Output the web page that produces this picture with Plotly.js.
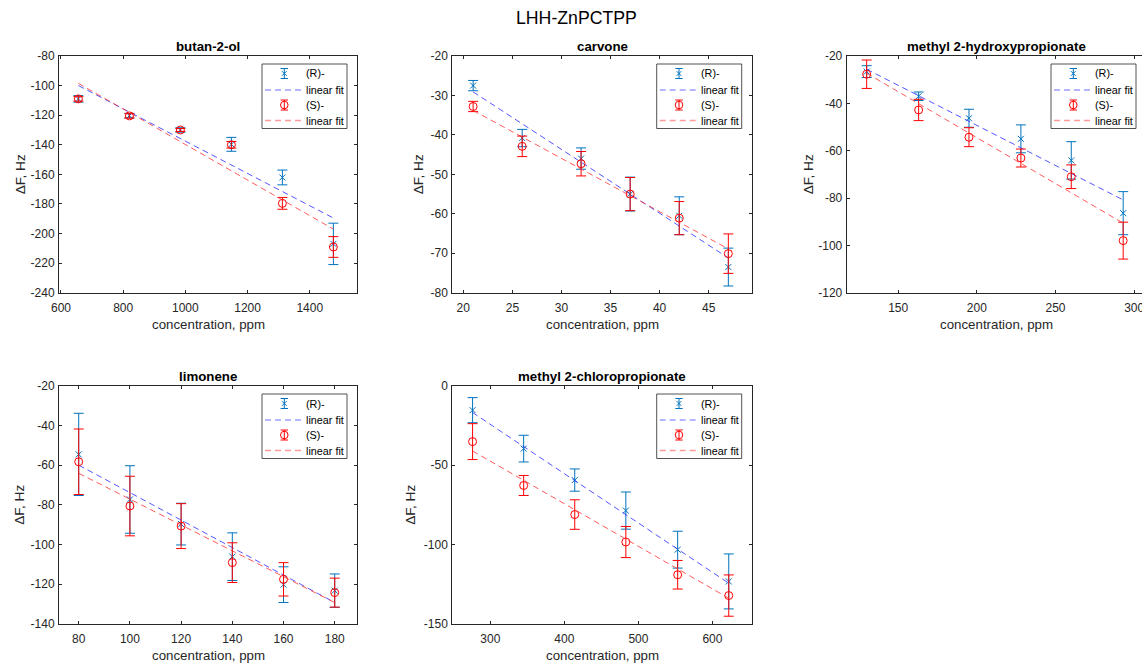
<!DOCTYPE html>
<html>
<head>
<meta charset="utf-8">
<script src="https://cdn.plot.ly/plotly-3.0.1.min.js"></script>
<style>
  html, body { margin: 0; padding: 0; background: #fff; overflow: hidden; }
  #chart { width: 1150px; height: 666px; }
</style>
</head>
<body>
<div id="chart"></div>
<script>
// ---------------- data ----------------
const panelTitles = ['butan-2-ol', 'carvone', 'methyl 2-hydroxypropionate', 'limonene', 'methyl 2-chloropropionate'];
const mainTitle = 'LHH-ZnPCTPP';
const xLabel = 'concentration, ppm';
const yLabel = '\u0394F, Hz';
const legendLabels = ['(R)-', 'linear fit', '(S)-', 'linear fit'];

// butan-2-ol
const butanConc = [656, 820, 984, 1148, 1312, 1476];
const butanR    = [-109, -120.3, -130, -139.7, -162.1, -207];
const butanRerr = [2.2, 1.5, 1.5, 4.7, 5, 14];
const butanS    = [-109, -120.5, -130, -140, -179.6, -209.1];
const butanSerr = [1.5, 1.5, 1, 2.2, 4, 7];
const butanRfit = [-100, -189.5];
const butanSfit = [-98.5, -197];

// carvone
const carvoneConc = [21, 26, 32, 37, 42, 47];
const carvoneR    = [-27.5, -40.8, -46, -55, -60.5, -73.5];
const carvoneRerr = [1.3, 2.2, 2.7, 4.3, 4.8, 4.8];
const carvoneS    = [-32.8, -42.9, -47.3, -55, -61.1, -70.1];
const carvoneSerr = [1.3, 2.6, 3.1, 4.2, 4.2, 5];
const carvoneRfit = [-29.1, -71.2];
const carvoneSfit = [-33.8, -68.9];

// methyl 2-hydroxypropionate
const hydroxyConc = [130, 163, 195, 228, 260, 293];
const hydroxyR    = [-26.6, -37, -46.3, -55, -64.1, -86.4];
const hydroxyRerr = [2.5, 1.8, 3.8, 5.9, 7.9, 9.1];
const hydroxyS    = [-27.7, -42.8, -54.3, -63.1, -71, -98];
const hydroxySerr = [6, 4.5, 4, 3.8, 5, 7.8];
const hydroxyRfit = [-25.6, -80.8];
const hydroxySfit = [-27.3, -90.6];

// limonene
const limoneneConc = [80, 100, 120, 140, 160, 180];
const limoneneR    = [-54.6, -77.3, -89.7, -106.1, -120.2, -123.2];
const limoneneRerr = [20.7, 17, 10.5, 12, 9, 8.4];
const limoneneS    = [-58.3, -80.6, -90.7, -109.1, -117.5, -124.2];
const limoneneSerr = [16.5, 15, 11.3, 10, 8.4, 7.3];
const limoneneRfit = [-60, -129.2];
const limoneneSfit = [-64.1, -129.2];

// methyl 2-chloropropionate
const chloroConc = [276, 345, 414, 483, 553, 622];
const chloroR    = [-15.4, -39.6, -59.4, -78.6, -103.2, -123.2];
const chloroRerr = [7.9, 8.4, 7, 11.7, 11.6, 17.3];
const chloroS    = [-35.2, -62.8, -81.1, -98.4, -119, -132.1];
const chloroSerr = [11.3, 6.3, 9.3, 9.8, 9, 13];
const chloroRfit = [-16.9, -124.3];
const chloroSfit = [-41.1, -133.8];

// axis ranges and ticks
const xRanges = [[593.6, 1552], [18.88, 49.38], [117.3, 307.5], [72.3, 188.7], [248.6, 653]];
const yRanges = [[-240, -80], [-80, -20], [-120, -20], [-140, -20], [-150, 0]];
const xTicks = [[600, 800, 1000, 1200, 1400], [20, 25, 30, 35, 40, 45], [150, 200, 250, 300], [80, 100, 120, 140, 160, 180], [300, 400, 500, 600]];
const yTicks = [[-240, -220, -200, -180, -160, -140, -120, -100, -80], [-80, -70, -60, -50, -40, -30, -20], [-120, -100, -80, -60, -40, -20], [-140, -120, -100, -80, -60, -40, -20], [-150, -100, -50, 0]];

// ---------------- layout geometry ----------------
const W = 1150, H = 666;
const px = x => x / W;
const py = y => 1 - y / H;
const boxes = [
  {l: 59, r: 357, t: 56, b: 292.7},
  {l: 452.3, r: 751.7, t: 56, b: 292.7},
  {l: 846.7, r: 1146, t: 56, b: 292.7},
  {l: 59, r: 357, t: 385.7, b: 624},
  {l: 452.3, r: 751.7, t: 385.7, b: 624}
];
const yLabelX = [20, 418, 808, 20, 411];

const panels = [
  {conc: butanConc, R: butanR, Rerr: butanRerr, S: butanS, Serr: butanSerr, Rfit: butanRfit, Sfit: butanSfit},
  {conc: carvoneConc, R: carvoneR, Rerr: carvoneRerr, S: carvoneS, Serr: carvoneSerr, Rfit: carvoneRfit, Sfit: carvoneSfit},
  {conc: hydroxyConc, R: hydroxyR, Rerr: hydroxyRerr, S: hydroxyS, Serr: hydroxySerr, Rfit: hydroxyRfit, Sfit: hydroxySfit},
  {conc: limoneneConc, R: limoneneR, Rerr: limoneneRerr, S: limoneneS, Serr: limoneneSerr, Rfit: limoneneRfit, Sfit: limoneneSfit},
  {conc: chloroConc, R: chloroR, Rerr: chloroRerr, S: chloroS, Serr: chloroSerr, Rfit: chloroRfit, Sfit: chloroSfit}
];

const FONT = 'Liberation Sans, Arial, Helvetica, sans-serif';
const AXC = '#262626';
const BLUE = '#0072BD', RED = '#FF0000', FITBLUE = '#2a2aff', FITRED = '#ff3030';
const LEGBLUE = '#6f6fff', LEGRED = '#ff9a9a';
const DASH = '6px,4px';

const traces = [];
const layout = {
  width: W, height: H,
  margin: {l: 0, r: 0, t: 0, b: 0},
  paper_bgcolor: '#fff', plot_bgcolor: '#fff',
  showlegend: false,
  font: {family: FONT, color: AXC},
  shapes: [], annotations: []
};

panels.forEach((p, i) => {
  const s = i === 0 ? '' : String(i + 1);
  const xa = 'x' + s, ya = 'y' + s;
  const bx = boxes[i];
  const first = p.conc[0], last = p.conc[p.conc.length - 1];

  traces.push({
    type: 'scatter', mode: 'markers', x: p.conc, y: p.R, xaxis: xa, yaxis: ya, name: '(R)-',
    marker: {symbol: 'x-thin-open', size: 6, color: BLUE, line: {color: BLUE, width: 1}},
    error_y: {type: 'data', array: p.Rerr, visible: true, color: BLUE, thickness: 1, width: 5}
  });
  traces.push({
    type: 'scatter', mode: 'lines', x: [first, last], y: p.Rfit, xaxis: xa, yaxis: ya, name: 'linear fit',
    line: {color: FITBLUE, width: 0.8, dash: DASH}
  });
  traces.push({
    type: 'scatter', mode: 'markers', x: p.conc, y: p.S, xaxis: xa, yaxis: ya, name: '(S)-',
    marker: {symbol: 'circle-open', size: 8, color: RED, line: {color: RED, width: 1}},
    error_y: {type: 'data', array: p.Serr, visible: true, color: RED, thickness: 1, width: 5}
  });
  traces.push({
    type: 'scatter', mode: 'lines', x: [first, last], y: p.Sfit, xaxis: xa, yaxis: ya, name: 'linear fit',
    line: {color: FITRED, width: 0.8, dash: DASH}
  });

  const axCommon = {
    ticks: 'inside', ticklen: 3, tickcolor: AXC, tickwidth: 1,
    showline: true, linecolor: AXC, linewidth: 1, mirror: 'allticks',
    showgrid: false, zeroline: false,
    tickfont: {family: FONT, size: 12, color: AXC}
  };
  layout['xaxis' + s] = Object.assign({}, axCommon, {
    domain: [px(bx.l), px(bx.r)], range: xRanges[i], anchor: ya,
    tickmode: 'array', tickvals: xTicks[i], ticktext: xTicks[i].map(String),
    ticklabelstandoff: 4
  });
  layout['yaxis' + s] = Object.assign({}, axCommon, {
    domain: [py(bx.b), py(bx.t)], range: yRanges[i], anchor: xa,
    tickmode: 'array', tickvals: yTicks[i], ticktext: yTicks[i].map(String),
    ticklabelstandoff: 1
  });

  // subplot title
  layout.annotations.push({
    xref: 'paper', yref: 'paper', x: px((bx.l + bx.r) / 2), y: py(bx.t - 9.5), xanchor: 'center', yanchor: 'middle',
    text: '<b>' + panelTitles[i] + '</b>', showarrow: false, font: {family: FONT, size: 13.3, color: '#000'}
  });
  // x label
  layout.annotations.push({
    xref: 'paper', yref: 'paper', x: px((bx.l + bx.r) / 2), y: py(bx.b + 31.5), xanchor: 'center', yanchor: 'middle',
    text: xLabel, showarrow: false, font: {family: FONT, size: 13.3, color: AXC}
  });
  // y label
  layout.annotations.push({
    xref: 'paper', yref: 'paper', x: px(yLabelX[i]), y: py((bx.t + bx.b) / 2), xanchor: 'center', yanchor: 'middle',
    text: yLabel, textangle: -90, showarrow: false, font: {family: FONT, size: 13.6, color: AXC}
  });

  // legend box (drawn with shapes + text)
  const R = bx.r, T = Math.round(bx.t);
  const sx = R - 72.7;
  const rows = [T + 17.5, T + 34, T + 49, T + 64.5];
  const ln = (x0, y0, x1, y1, color, width, dash) => ({
    type: 'line', xref: 'paper', yref: 'paper', x0: px(x0), y0: py(y0), x1: px(x1), y1: py(y1),
    line: {color: color, width: width, dash: dash || 'solid'}
  });
  layout.shapes.push({
    type: 'rect', xref: 'paper', yref: 'paper', x0: px(R - 95), x1: px(R - 10), y0: py(T + 72.5), y1: py(T + 8),
    line: {color: AXC, width: 0.8}, fillcolor: '#fff'
  });
  // R errorbar symbol
  layout.shapes.push(ln(sx, rows[0] - 5, sx, rows[0] + 5, BLUE, 1));
  layout.shapes.push(ln(sx - 3.7, rows[0] - 5, sx + 3.7, rows[0] - 5, BLUE, 1));
  layout.shapes.push(ln(sx - 3.7, rows[0] + 5, sx + 3.7, rows[0] + 5, BLUE, 1));
  layout.shapes.push(ln(sx - 2.3, rows[0] - 2.3, sx + 2.3, rows[0] + 2.3, BLUE, 1));
  layout.shapes.push(ln(sx - 2.3, rows[0] + 2.3, sx + 2.3, rows[0] - 2.3, BLUE, 1));
  layout.shapes.push(ln(R - 92, rows[1], R - 53, rows[1], LEGBLUE, 1.2, DASH));
  // S errorbar symbol
  layout.shapes.push(ln(sx, rows[2] - 5, sx, rows[2] + 5, RED, 1));
  layout.shapes.push(ln(sx - 3.7, rows[2] - 5, sx + 3.7, rows[2] - 5, RED, 1));
  layout.shapes.push(ln(sx - 3.7, rows[2] + 5, sx + 3.7, rows[2] + 5, RED, 1));
  layout.shapes.push({
    type: 'circle', xref: 'paper', yref: 'paper', x0: px(sx - 3.8), x1: px(sx + 3.8), y0: py(rows[2] + 3.8), y1: py(rows[2] - 3.8),
    line: {color: RED, width: 1}, fillcolor: 'rgba(0,0,0,0)'
  });
  layout.shapes.push(ln(R - 92, rows[3], R - 53, rows[3], LEGRED, 1.5, DASH));
  legendLabels.forEach((t, k) => {
    layout.annotations.push({
      xref: 'paper', yref: 'paper', x: px(R - 53), y: py(rows[k]), xanchor: 'left', yanchor: 'middle',
      text: t, showarrow: false, font: {family: FONT, size: 10.8, color: '#000'}
    });
  });
});

// main title
layout.annotations.push({
  xref: 'paper', yref: 'paper', x: px(576.5), y: py(18), xanchor: 'center', yanchor: 'middle',
  text: mainTitle, showarrow: false, font: {family: FONT, size: 17.7, color: '#000'}
});

Plotly.newPlot('chart', traces, layout, {displayModeBar: false, staticPlot: true});
</script>
</body>
</html>
